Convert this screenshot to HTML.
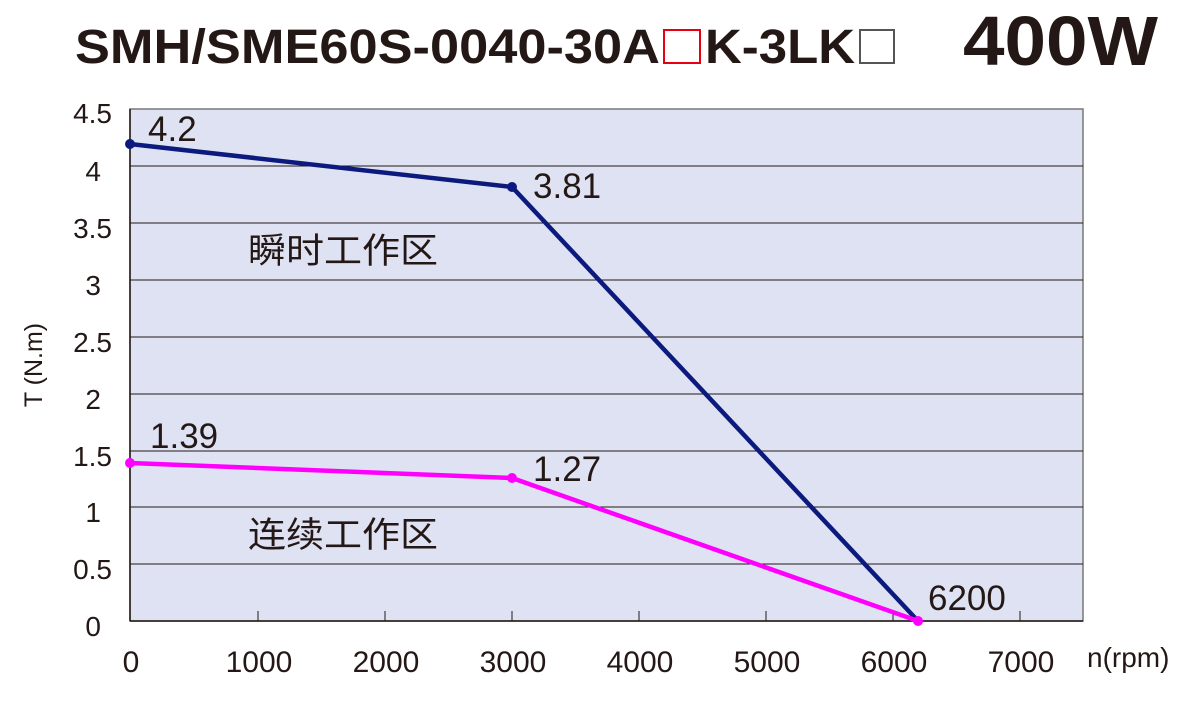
<!DOCTYPE html>
<html><head><meta charset="utf-8"><style>
body{margin:0;background:#fff;width:1202px;height:699px;overflow:hidden}
svg text{font-family:"Liberation Sans","Noto Sans CJK SC",sans-serif;fill:#231815}
</style></head><body>
<svg width="1202" height="699" viewBox="0 0 1202 699">
<text x="75" y="63" font-size="48" font-weight="bold" textLength="585" lengthAdjust="spacingAndGlyphs">SMH/SME60S-0040-30A</text>
<rect x="664" y="30" width="36" height="33" fill="none" stroke="#e60012" stroke-width="2"/>
<text x="705" y="63" font-size="48" font-weight="bold" textLength="150" lengthAdjust="spacingAndGlyphs">K-3LK</text>
<rect x="860" y="30" width="34" height="33" fill="none" stroke="#555" stroke-width="2"/>
<text x="963" y="65" font-size="70" font-weight="bold" textLength="195" lengthAdjust="spacingAndGlyphs">400W</text>
<rect x="130" y="109" width="953" height="512" fill="#dfe2f2" stroke="#777" stroke-width="1.5"/>
<g stroke="#231815" stroke-width="1">
<line x1="130" y1="166" x2="1083" y2="166"/><line x1="130" y1="223" x2="1083" y2="223"/>
<line x1="130" y1="280" x2="1083" y2="280"/><line x1="130" y1="337" x2="1083" y2="337"/>
<line x1="130" y1="394" x2="1083" y2="394"/><line x1="130" y1="451" x2="1083" y2="451"/>
<line x1="130" y1="507" x2="1083" y2="507"/><line x1="130" y1="564" x2="1083" y2="564"/>
<line x1="130" y1="109" x2="130" y2="621" stroke-width="1.5"/>
<line x1="130" y1="621" x2="1083" y2="621" stroke-width="1.5"/>
<line x1="258" y1="611" x2="258" y2="621"/><line x1="385" y1="611" x2="385" y2="621"/>
<line x1="512" y1="611" x2="512" y2="621"/><line x1="639" y1="611" x2="639" y2="621"/>
<line x1="766" y1="611" x2="766" y2="621"/><line x1="893" y1="611" x2="893" y2="621"/>
<line x1="1020" y1="611" x2="1020" y2="621"/>
</g>
<g font-size="28" text-anchor="end">
<text x="112" y="123">4.5</text><text x="101" y="181">4</text><text x="112" y="238">3.5</text>
<text x="101" y="295">3</text><text x="112" y="352">2.5</text><text x="101" y="409">2</text>
<text x="112" y="466">1.5</text><text x="101" y="522">1</text><text x="112" y="579">0.5</text>
<text x="101" y="636">0</text>
</g>
<g font-size="30" text-anchor="middle">
<text x="131" y="672">0</text><text x="259" y="672">1000</text><text x="386" y="672">2000</text>
<text x="513" y="672">3000</text><text x="640" y="672">4000</text><text x="767" y="672">5000</text>
<text x="894" y="672">6000</text><text x="1021" y="672">7000</text>
</g>
<text x="1087" y="667" font-size="28">n(rpm)</text>
<text transform="translate(42,365) rotate(-90)" font-size="25" text-anchor="middle">T (N.m)</text>
<polyline points="130,144 512,187 918,621" fill="none" stroke="#0c1a7e" stroke-width="4.5"/>
<polyline points="130,463 512,478 918,621" fill="none" stroke="#ff00ff" stroke-width="4.5"/>
<circle cx="130" cy="144" r="5" fill="#0c1a7e"/><circle cx="512" cy="187" r="5" fill="#0c1a7e"/>
<circle cx="130" cy="463" r="5" fill="#ff00ff"/><circle cx="512" cy="478" r="5" fill="#ff00ff"/>
<circle cx="918" cy="621" r="5" fill="#ff00ff"/>
<g font-size="35">
<text x="148" y="141">4.2</text><text x="533" y="198">3.81</text>
<text x="150" y="448">1.39</text><text x="533" y="481">1.27</text>
<text x="928" y="610">6200</text>
</g>
<text x="248" y="263" font-size="35" textLength="190" lengthAdjust="spacingAndGlyphs">瞬时工作区</text>
<text x="248" y="547" font-size="35" textLength="190" lengthAdjust="spacingAndGlyphs">连续工作区</text>
</svg>
</body></html>
